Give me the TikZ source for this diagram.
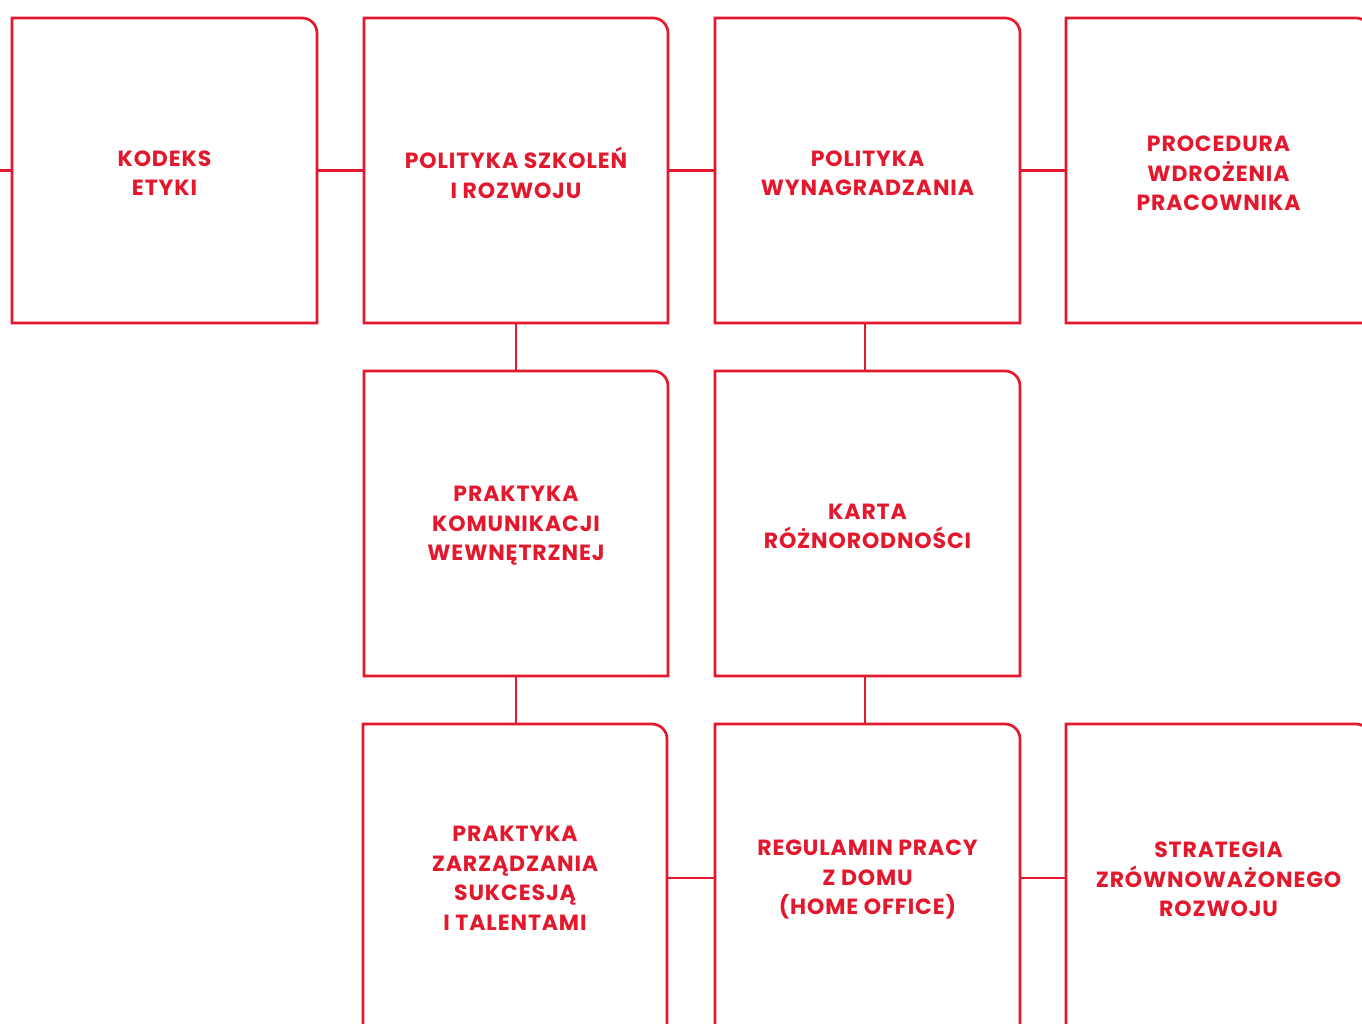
\documentclass[tikz,border=0pt]{standalone}
\usepackage{fontspec}
\setmainfont{Poppins}[LetterSpace=4]
\definecolor{myred}{RGB}{227,24,44}
\begin{document}
\begin{tikzpicture}[x=1pt,y=-1pt,
  ln/.style={draw=myred, line width=2.7pt},
  card/.style={minimum width=#1, minimum height=305pt, inner sep=0pt, outer sep=0pt},
  card/.default=305pt,
  lbl/.style={inner sep=0pt, align=center, text=myred, font=\bfseries\fontsize{22}{29.5}\selectfont}]
\useasboundingbox (0,0) rectangle (1362,1023);
\clip (0,0) rectangle (1362,1023);
\newcommand\cardframe[1]{%
  \draw[ln,line join=miter] (#1.south west) -- (#1.north west) -- ([xshift=-15pt]#1.north east)
    arc[start angle=90,end angle=0,radius=15pt] -- (#1.south east) -- cycle;}
% row 1
\node[card] (kod) at (164.5,170.5) {};
\node[card=304pt] (szk) at (516,170.5) {};
\node[card] (wyn) at (867.5,170.5) {};
\node[card] (wdr) at (1218.5,170.5) {};
% row 2
\node[card=304pt] (kom) at (516,523.5) {};
\node[card] (kar) at (867.5,523.5) {};
% row 3
\node[card=304pt] (suk) at (515,876.5) {};
\node[card] (dom) at (867.5,876.5) {};
\node[card] (str) at (1218.5,876.5) {};
\foreach \n in {kod,szk,wyn,wdr,kom,kar,suk,dom,str}{\cardframe{\n}}
% labels
\node[lbl] (kodt) at ([yshift=-2.5pt]kod.center) {KODEKS\\ETYKI};
\node[lbl] (szkt) at ([yshift=-2.5pt]szk.center) {POLITYKA SZKOLEŃ\\I ROZWOJU};
\node[lbl] (wynt) at ([yshift=-2.5pt]wyn.center) {POLITYKA\\WYNAGRADZANIA};
\node[lbl] (wdrt) at ([yshift=-3pt]wdr.center) {PROCEDURA\\WDROŻENIA\\PRACOWNIKA};
\node[lbl] (komt) at ([yshift=-2.5pt]kom.center) {PRAKTYKA\\KOMUNIKACJI\\WEWNĘTRZNEJ};
\node[lbl] (kart) at ([yshift=-3pt]kar.center) {KARTA\\RÓŻNORODNOŚCI};
\node[lbl] (sukt) at ([yshift=-2pt]suk.center) {PRAKTYKA\\ZARZĄDZANIA\\SUKCESJĄ\\I TALENTAMI};
\node[lbl] (domt) at ([yshift=-3pt]dom.center) {REGULAMIN PRACY\\Z DOMU\\(HOME OFFICE)};
\node[lbl] (strt) at ([yshift=-3pt]str.center) {STRATEGIA\\ZRÓWNOWAŻONEGO\\ROZWOJU};
% connectors
\coordinate (lstub) at (0,170.5);
\draw[ln] (lstub) -- (kod.west);
\draw[ln] (kod.east) -- (szk.west);
\draw[ln] (szk.east) -- (wyn.west);
\draw[ln] (wyn.east) -- (wdr.west);
\draw[ln] (szk.south) -- (kom.north);
\draw[ln] ([xshift=-2.5pt]wyn.south) -- ([xshift=-2.5pt]kar.north);
\draw[ln] (kom.south) -- (kom.south |- suk.north);
\draw[ln] ([xshift=-2.5pt]kar.south) -- ([xshift=-2.5pt]dom.north);
\draw[ln] ([yshift=-1.5pt]suk.east) -- ([yshift=-1.5pt]dom.west);
\draw[ln] ([yshift=-1.5pt]dom.east) -- ([yshift=-1.5pt]str.west);
\end{tikzpicture}
\end{document}
